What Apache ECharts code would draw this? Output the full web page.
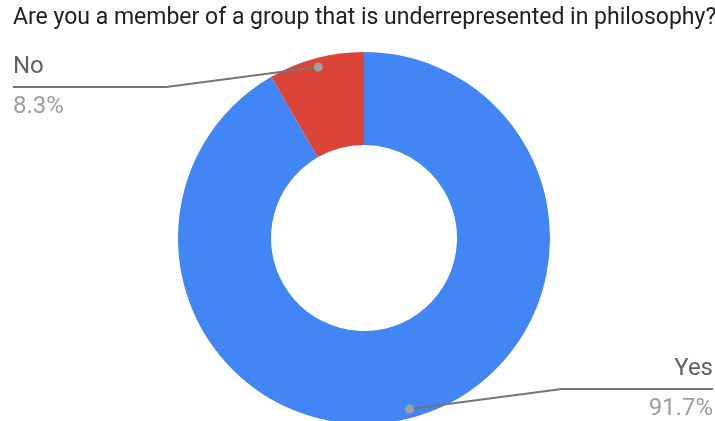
<!DOCTYPE html>
<html>
<head>
<meta charset="utf-8">
<script src="https://cdn.jsdelivr.net/npm/echarts@6/dist/echarts.min.js"></script>
<style>
  html, body { margin: 0; padding: 0; background: #fff; }
  #chart { width: 715px; height: 421px; }
</style>
</head>
<body>
<div id="chart"></div>
<script>
// Survey answers, shown as share of responses (%)
const titleText = 'Are you a member of a group that is underrepresented in philosophy?';
const categories = ['Yes', 'No'];
const shares = [91.7, 8.3];
const sliceColors = ['#4285f4', '#db4437'];

// Ring geometry
const CX = 364, CY = 238, R_IN = 93, R_OUT = 186;
const DOT_RADIUS_POS = 177;   // where the leader dot sits inside the ring
const ELBOW_DX = 152, ELBOW_DY = 20;
const EDGE_LEFT = 13, EDGE_RIGHT = 713;

// Leader geometry from a unit direction: dot inside the slice -> elbow -> page edge
function leaderPoints(ux, uy) {
  const dot = [CX + ux * DOT_RADIUS_POS, CY + uy * DOT_RADIUS_POS];
  const side = ux < 0 ? -1 : 1;
  const elbow = [dot[0] + side * ELBOW_DX, dot[1] + (uy < 0 ? 1 : -1) * ELBOW_DY];
  const end = [side < 0 ? EDGE_LEFT : EDGE_RIGHT, elbow[1]];
  return { dot, elbow, end, side };
}

const chart = echarts.init(document.getElementById('chart'), null, { renderer: 'canvas' });

function layoutLabel(params) {
  const p0 = params.labelLinePoints && params.labelLinePoints[0];
  if (!p0) return {};
  const vx = p0[0] - CX, vy = p0[1] - CY;
  const len = Math.hypot(vx, vy) || 1;
  const g = leaderPoints(vx / len, vy / len);
  return {
    x: g.end[0],
    y: g.end[1],
    align: g.side < 0 ? 'left' : 'right',
    verticalAlign: 'middle'
  };
}

chart.setOption({
  animation: false,
  backgroundColor: '#ffffff',
  title: {
    text: titleText,
    left: 8,
    top: 2,
    textStyle: { fontFamily: 'Roboto', fontSize: 23, fontWeight: 'normal', color: '#212121' }
  },
  series: [{
    type: 'pie',
    center: [CX, CY],
    radius: [R_IN, R_OUT],
    startAngle: 90,
    clockwise: true,
    avoidLabelOverlap: false,
    percentPrecision: 1,
    emphasis: { disabled: true },
    itemStyle: { borderWidth: 0 },
    label: {
      show: true,
      position: 'outside',
      formatter: '{n|{b}}\n{p|{d}%}',
      rich: {
        n: { fontFamily: 'Roboto', fontSize: 24, color: '#616161', lineHeight: 40 },
        p: { fontFamily: 'Roboto', fontSize: 24, color: '#9e9e9e', lineHeight: 40 }
      }
    },
    // leader lines are drawn on top of the ring below; the built-in one stays invisible
    labelLine: {
      show: true,
      length: 20,
      length2: 100,
      lineStyle: { opacity: 0 }
    },
    labelLayout: layoutLabel,
    data: categories.map((name, i) => ({
      name: name,
      value: shares[i],
      itemStyle: { color: sliceColors[i] }
    }))
  }]
});

// Leader lines and dots, placed on each slice's mid-angle
const pieData = chart.getModel().getSeriesByIndex(0).getData();
const leaderGraphics = [];
for (let i = 0; i < pieData.count(); i++) {
  const lay = pieData.getItemLayout(i);
  const mid = (lay.startAngle + lay.endAngle) / 2;
  const g = leaderPoints(Math.cos(mid), Math.sin(mid));
  leaderGraphics.push({
    type: 'polyline',
    shape: { points: [g.dot, g.elbow, g.end] },
    style: { stroke: '#757575', lineWidth: 2, fill: null },
    z: 100
  });
  leaderGraphics.push({
    type: 'circle',
    shape: { cx: g.dot[0], cy: g.dot[1], r: 4.5 },
    style: { fill: '#a0a0a0' },
    z: 101
  });
}
chart.setOption({ graphic: leaderGraphics });
</script>
</body>
</html>
